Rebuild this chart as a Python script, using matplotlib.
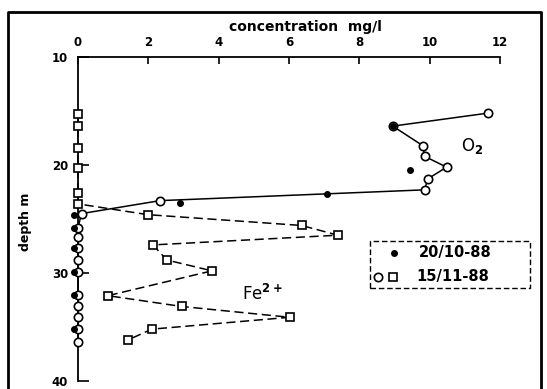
import matplotlib
matplotlib.use('Agg')
import matplotlib.pyplot as plt
from matplotlib.lines import Line2D
from matplotlib.patches import Rectangle

# O2, 15/11-88 (open circles)
o2_conc = [11.65, 8.95, 9.8, 9.86, 10.48, 9.94, 9.86, 2.33, 0.1,
           0, 0, 0, 0, 0, 0, 0, 0, 0, 0]
o2_depth = [15.2, 16.4, 18.2, 19.2, 20.2, 21.3, 22.3, 23.3, 24.5,
            25.8, 26.7, 27.7, 28.8, 29.9, 32.0, 33.1, 34.1, 35.2, 36.4]

# O2, 20/10-88 (filled dots)
o2_oct_conc = [8.95, 9.43, 7.07, 2.9, -0.1, -0.1, -0.1, -0.1, -0.1, -0.1]
o2_oct_depth = [16.4, 20.5, 22.7, 23.5, 24.6, 25.8, 27.7, 29.9, 32.0, 35.2]

# Fe2+, 15/11-88 (open squares)
fe_conc = [0, 0, 0, 0, 0, 0, 1.99, 6.36, 7.39, 2.13, 2.53, 3.81,
           0.85, 2.95, 6.02, 2.1, 1.42]
fe_depth = [15.3, 16.4, 18.4, 20.3, 22.6, 23.6, 24.6, 25.6, 26.5, 27.4,
            28.8, 29.8, 32.1, 33.1, 34.1, 35.2, 36.2]

x_ticks = [0, 2, 4, 6, 8, 10, 12]
y_ticks = [10, 20, 30, 40]

W, H = 547, 389
fig = plt.figure(figsize=(W / 100, H / 100), dpi=100)
ax = fig.add_axes([78 / W, 8 / H, 422 / W, 324 / H])

ax.plot(fe_conc, fe_depth, color='black', lw=1.1, ls=(0, (6, 3)),
        marker='s', ms=5.5, mfc='white', mec='black', mew=1.2, clip_on=False, zorder=3)
ax.plot(o2_conc, o2_depth, color='black', lw=1.1,
        marker='o', ms=6, mfc='white', mec='black', mew=1.2, clip_on=False, zorder=4)
ax.plot(o2_oct_conc, o2_oct_depth, ls='none', marker='o', ms=4,
        color='black', clip_on=False, zorder=5)

ax.set_xlim(0, 12)
ax.set_ylim(40, 10)
ax.set_xticks(x_ticks)
ax.set_yticks(y_ticks)
for s in ['right', 'bottom']:
    ax.spines[s].set_visible(False)
for s in ['top', 'left']:
    ax.spines[s].set_linewidth(1.3)
ax.xaxis.tick_top()
ax.tick_params(axis='x', direction='in', length=5, width=1.2, pad=6,
               labelsize=8.5)
ax.tick_params(axis='y', direction='in', length=8, width=1.2, pad=7,
               labelsize=8.5)
for lab in ax.get_xticklabels() + ax.get_yticklabels():
    lab.set_fontweight('bold')

fig.text(305 / W, 1 - 27 / H, 'concentration  mg/l', ha='center', va='center',
         fontsize=10, fontweight='bold')
fig.text(25 / W, 1 - 222 / H, 'depth m', ha='center', va='center',
         rotation=90, fontsize=9, fontweight='bold')
fig.text(472 / W, 1 - 146 / H, r'O$_{\mathbf{2}}$', ha='center', va='center',
         fontsize=12)
fig.text(262 / W, 1 - 294 / H, r'Fe$^{\mathbf{2+}}$', ha='center', va='center',
         fontsize=12)

# legend box
fig.patches.append(Rectangle((370 / W, 1 - 288 / H), 160 / W, 47 / H,
                             transform=fig.transFigure, fill=False,
                             ls=(0, (4, 2)), lw=1.0, ec='black'))
fig.lines.append(Line2D([394 / W], [1 - 253 / H], marker='o', ms=4,
                        color='black', transform=fig.transFigure))
fig.lines.append(Line2D([378 / W], [1 - 277 / H], marker='o', ms=6, mfc='white',
                        mec='black', mew=1.2, transform=fig.transFigure))
fig.lines.append(Line2D([393 / W], [1 - 277 / H], marker='s', ms=5.5, mfc='white',
                        mec='black', mew=1.2, transform=fig.transFigure))
fig.text(455 / W, 1 - 253 / H, '20/10-88', ha='center', va='center',
         fontsize=10.5, fontweight='bold')
fig.text(453 / W, 1 - 277 / H, '15/11-88', ha='center', va='center',
         fontsize=10.5, fontweight='bold')

# outer frame of the scanned figure
fig.lines.append(Line2D([8 / W, 8 / W, 541 / W, 541 / W],
                        [0, 1 - 12 / H, 1 - 12 / H, 0], color='black', lw=2,
                        transform=fig.transFigure))

fig.savefig('out.png', dpi=100)
